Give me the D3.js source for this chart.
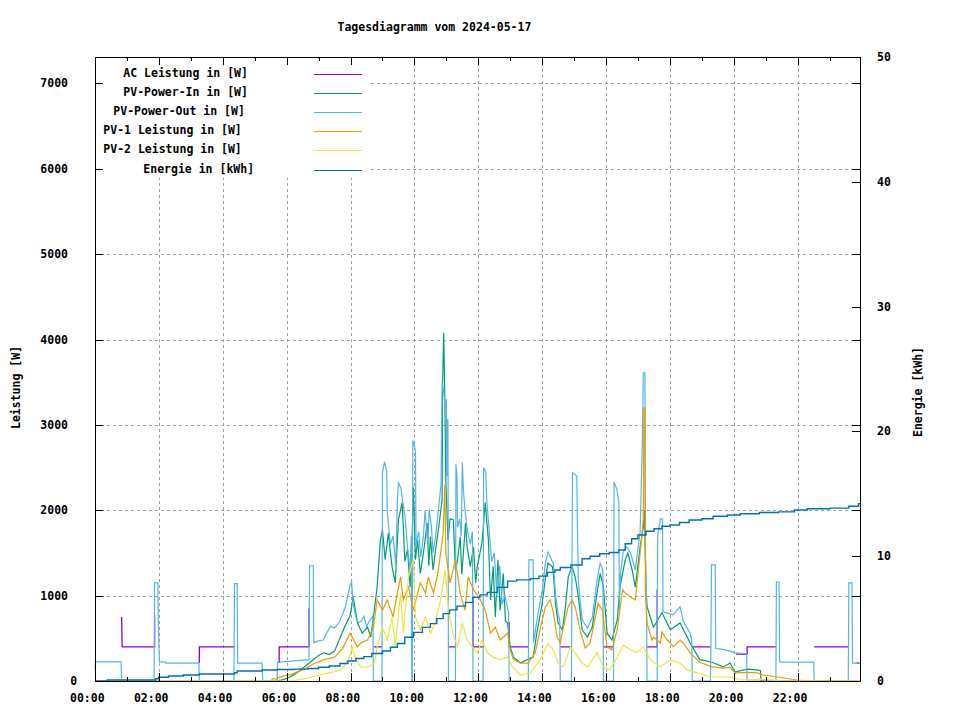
<!DOCTYPE html>
<html>
<head>
<meta charset="utf-8">
<script src="https://cdn.jsdelivr.net/npm/d3@7"></script>
<style>
  body { margin: 0; background: #fff; }
  svg text { font-family: "DejaVu Sans Mono", monospace; font-weight: bold; font-size: 11.5px; fill: #000; }
</style>
</head>
<body>
<div id="chart"></div>
<script>
// values: [time, value]; null = hidden behind other lines
const acLeistung = [
  ["00:50",750],["00:51",400],["01:52",400],["01:52",770],["01:53",null],
  ["03:16",210],["03:16",400],["04:22",400],["04:23",null],
  ["05:46",210],["05:46",400],["06:42",400],["06:42",850],["06:43",null],
  ["08:43",400],["08:59",400],["09:00",null],
  ["11:04",400],["11:17",400],["11:18",null],
  ["11:50",925],["11:50",400],["12:10",400],["12:11",null],
  ["12:58",690],["12:58",400],["13:34",400],["13:35",null],
  ["14:34",400],["14:55",400],["14:56",null],
  ["15:55",400],["16:14",400],["16:15",null],
  ["17:17",400],["17:36",400],["17:36",1070],["17:37",null],
  ["18:42",400],["19:16",400],["19:17",null],
  ["20:04",315],["20:25",315],["20:25",400],["21:19",400],["21:20",null],
  ["22:31",400],["23:35",400],["23:36",null],
  ["23:50",210],["23:57",210]
]

const pvPowerIn = [
  ["00:00",0],["05:40",0],["05:50",10],["06:00",30],["06:10",60],["06:20",100],["06:30",150],["06:40",200],
  ["06:50",250],["07:00",300],["07:10",330],["07:20",310],["07:30",350],["07:40",500],["07:50",650],["07:59",760],
  ["08:05",985],["08:13",680],["08:22",560],["08:32",630],["08:38",515],["08:43",750],["08:50",1100],["08:56",1650],
  ["09:00",1770],["09:05",1420],["09:11",1730],["09:18",1340],["09:24",1150],["09:30",1890],["09:37",2090],["09:42",1400],
  ["09:47",1540],["09:52",1100],["09:55",1500],["09:58",2270],["10:02",1420],["10:06",1650],["10:11",1260],["10:17",1500],
  ["10:24",1850],["10:27",1350],["10:30",1690],["10:35",1300],["10:39",1500],["10:45",1770],["10:52",2120],["10:53",3490],
  ["10:55",4080],["10:57",3375],["10:59",2360],["11:03",1650],["11:07",1900],["11:13",1890],["11:17",1300],["11:21",1420],
  ["11:26",1690],["11:29",1250],["11:32",1500],["11:36",1850],["11:39",1570],["11:45",1340],["11:51",1570],["11:55",1150],
  ["11:58",1340],["12:07",1620],["12:13",2090],["12:19",1650],["12:23",950],["12:28",1340],["12:32",750],["12:37",1420],
  ["12:41",830],["12:47",1260],["12:51",700],["12:55",680],["13:00",400],["13:06",280],["13:19",210],["13:32",250],
  ["13:43",280],["13:51",600],["14:00",910],["14:06",1200],["14:11",1380],["14:19",1340],["14:21",1260],["14:25",910],
  ["14:30",680],["14:38",600],["14:43",830],["14:49",1220],["14:56",1340],["15:02",1220],["15:08",985],["15:15",600],
  ["15:25",515],["15:34",630],["15:43",1030],["15:49",1260],["15:55",1100],["16:02",560],["16:11",480],["16:21",715],
  ["16:26",1100],["16:36",1420],["16:41",1500],["16:49",1300],["16:55",1100],["17:04",1570],["17:10",1800],["17:12",2000],
  ["17:15",1100],["17:17",870],["17:29",630],["17:45",800],["18:01",600],["18:19",680],["18:38",445],["18:56",250],
  ["19:19",220],["19:40",165],["19:53",210],["20:02",105],["20:25",140],["20:44",130],["20:50",120],["20:51",0],["23:57",0]
]

const pvPowerOut = [
  ["00:00",130],["00:01",223],["00:49",223],["00:50",0],["01:51",0],["01:52",1150],["01:58",1150],["01:59",680],
  ["02:01",223],["02:12",223],["02:13",210],["03:15",210],["03:16",0],["04:21",0],["04:22",1140],["04:27",1140],
  ["04:28",210],["05:14",210],["05:15",0],["05:42",0],["05:43",220],["06:42",250],["06:43",1350],["06:50",1350],
  ["06:51",450],["07:00",470],["07:09",480],["07:15",560],["07:22",640],["07:30",620],["07:40",700],["07:50",860],
  ["07:59",1120],["08:02",1160],["08:05",900],["08:10",750],["08:15",680],["08:20",700],["08:25",760],["08:30",640],
  ["08:35",700],["08:42",760],["08:43",0],["08:59",0],["09:00",2450],["09:04",2570],["09:08",2450],["09:09",1980],
  ["09:15",1600],["09:20",1700],["09:25",1350],["09:28",2100],["09:30",2330],["09:35",2250],["09:38",2100],["09:42",1950],
  ["09:48",1500],["09:52",1300],["09:54",1700],["09:55",0],["09:56",0],["09:57",2820],["10:02",2700],["10:03",1600],
  ["10:08",1750],["10:12",1450],["10:17",1700],["10:20",2000],["10:25",1600],["10:28",2010],["10:32",1800],["10:35",1500],
  ["10:40",1700],["10:45",2000],["10:50",2300],["10:52",3500],["10:55",3390],["10:58",3200],["11:00",3300],["11:01",2400],
  ["11:02",3060],["11:03",3060],["11:04",0],["11:17",0],["11:18",2540],["11:20",2400],["11:21",1800],["11:25",1900],
  ["11:28",1700],["11:30",2560],["11:32",2240],["11:35",2000],["11:40",1750],["11:45",1600],["11:49",1750],["11:50",0],
  ["12:09",0],["12:10",2500],["12:14",2450],["12:16",2100],["12:20",1800],["12:25",1400],["12:30",1500],["12:35",1000],
  ["12:40",1350],["12:45",900],["12:50",1000],["12:57",800],["12:58",0],["13:34",0],["13:35",1420],["13:43",1420],
  ["13:44",450],["13:51",750],["14:00",1050],["14:06",1380],["14:11",1510],["14:19",1400],["14:21",1380],["14:25",1000],
  ["14:30",780],["14:33",715],["14:34",0],["14:55",0],["14:56",1340],["14:57",2440],["15:05",2400],["15:06",1890],
  ["15:08",1150],["15:15",720],["15:25",620],["15:34",740],["15:43",1180],["15:49",1380],["15:54",1300],["15:55",0],
  ["16:14",0],["16:15",2330],["16:20",2250],["16:24",2100],["16:25",830],["16:27",1250],["16:32",1510],["16:39",1570],
  ["16:46",1500],["16:55",1300],["17:04",1750],["17:08",2750],["17:10",3610],["17:13",3610],["17:14",1500],["17:16",900],
  ["17:17",0],["17:36",0],["17:37",1700],["17:42",1900],["17:46",1900],["17:47",810],["18:06",775],["18:19",870],
  ["18:25",700],["18:38",560],["18:41",480],["18:42",0],["19:16",0],["19:17",400],["19:18",1360],["19:25",1360],
  ["19:26",380],["19:40",370],["19:53",350],["20:02",330],["20:24",320],["20:25",0],["21:19",0],["21:20",1160],
  ["21:25",1160],["21:26",220],["22:30",220],["22:31",0],["23:35",0],["23:36",1150],["23:42",1150],["23:43",210],["23:57",210]
]

const pv1Leistung = [
  ["00:00",0],["05:30",0],["05:35",30],["05:40",20],["05:45",40],["05:55",60],["06:10",80],["06:30",130],
  ["06:50",200],["07:10",250],["07:30",280],["07:45",380],["07:59",560],["08:13",400],["08:20",450],["08:32",480],
  ["08:43",630],["08:50",950],["09:00",830],["09:09",950],["09:20",750],["09:27",1000],["09:34",1220],["09:39",950],
  ["09:49",1100],["09:58",830],["10:05",1000],["10:11",1150],["10:21",1030],["10:26",1220],["10:36",1030],["10:45",1300],
  ["10:54",1730],["10:57",2300],["10:59",1500],["11:07",1150],["11:17",1420],["11:26",1030],["11:35",830],["11:41",1220],
  ["11:51",1070],["12:04",950],["12:13",830],["12:23",560],["12:32",630],["12:41",480],["12:55",560],["13:00",365],
  ["13:06",250],["13:19",210],["13:34",210],["13:47",330],["13:56",600],["14:06",870],["14:15",950],["14:21",800],
  ["14:28",515],["14:34",445],["14:40",630],["14:49",870],["14:56",950],["15:02",870],["15:11",600],["15:21",385],
  ["15:30",445],["15:40",750],["15:45",910],["15:53",830],["16:02",400],["16:11",365],["16:21",600],["16:31",1070],
  ["16:36",1030],["16:46",985],["16:55",950],["17:04",1500],["17:10",1890],["17:11",3200],["17:13",3200],["17:14",1000],
  ["17:17",680],["17:26",480],["17:29",515],["17:42",445],["17:45",575],["17:55",480],["18:01",445],["18:06",400],
  ["18:19",480],["18:25",445],["18:38",330],["18:56",220],["19:19",165],["19:40",150],["19:53",160],["20:02",95],
  ["20:25",100],["20:44",95],["20:55",70],["21:22",47],["21:59",12],["22:23",0],["23:57",0]
]

const pv2Leistung = [
  ["00:00",0],["06:00",0],["06:15",5],["06:35",30],["06:50",50],["07:10",80],["07:30",110],["07:45",140],
  ["07:59",300],["08:03",400],["08:10",250],["08:20",160],["08:35",170],["08:45",210],["08:50",400],["09:00",630],
  ["09:09",480],["09:18",750],["09:24",400],["09:34",1030],["09:39",560],["09:49",1220],["09:58",1420],["10:02",750],
  ["10:11",600],["10:21",750],["10:30",560],["10:39",680],["10:49",950],["10:58",1300],["11:04",830],["11:12",560],
  ["11:21",400],["11:30",680],["11:39",480],["11:49",400],["11:58",330],["12:07",480],["12:17",330],["12:28",280],
  ["12:41",250],["12:55",280],["13:04",165],["13:19",70],["13:38",94],["13:56",250],["14:11",445],["14:21",365],
  ["14:30",210],["14:40",165],["14:53",400],["15:02",330],["15:15",210],["15:26",165],["15:43",330],["15:55",165],
  ["16:07",130],["16:21",280],["16:32",420],["16:46",365],["16:58",330],["17:10",400],["17:23",250],["17:42",165],
  ["18:01",250],["18:19",210],["18:32",130],["18:51",95],["19:16",47],["19:53",47],["20:12",12],["20:50",20],
  ["21:19",10],["21:29",0],["23:57",0]
]

const energie = [
  ["00:00",0],["00:23",0.08],["01:54",0.18],["01:59",0.3],["02:18",0.4],["02:46",0.48],["03:16",0.56],["04:22",0.66],
  ["04:27",0.8],["05:14",0.88],["05:43",0.92],["06:15",0.95],["06:40",1.0],["07:00",1.1],["07:20",1.2],["07:40",1.4],
  ["07:55",1.6],["08:10",1.8],["08:25",1.95],["08:40",2.2],["09:00",2.4],["09:15",2.7],["09:28",3.0],["09:42",3.5],
  ["09:58",3.9],["10:15",4.3],["10:30",4.6],["10:42",5.0],["10:54",5.4],["11:06",5.7],["11:20",6.0],["11:36",6.3],
  ["11:50",6.7],["12:03",6.9],["12:17",7.1],["12:36",7.5],["12:55",8.0],["13:12",8.1],["13:38",8.2],["13:54",8.4],
  ["14:10",8.7],["14:24",8.9],["14:34",9.1],["14:54",9.3],["15:15",9.8],["15:30",10.0],["15:48",10.2],["16:06",10.3],
  ["16:24",10.5],["16:36",11.0],["16:48",11.4],["17:00",11.7],["17:15",12.0],["17:30",12.2],["17:45",12.4],["18:00",12.5],
  ["18:18",12.7],["18:36",12.9],["19:00",13.0],["19:21",13.2],["19:48",13.3],["20:12",13.4],["20:48",13.5],["21:24",13.55],
  ["21:54",13.7],["22:18",13.8],["23:00",13.85],["23:36",14.0],["23:54",14.2],["23:57",14.2]
]

const legendLabels = ["AC Leistung in [W]", "PV-Power-In in [W]", "PV-Power-Out in [W]",
  "PV-1 Leistung in [W]", "PV-2 Leistung in [W]", "Energie in [kWh]"]
const leistungTicks = [0, 1000, 2000, 3000, 4000, 5000, 6000, 7000]
const energieTicks = [0, 10, 20, 30, 40, 50]
const dayRange = ["00:00", "23:57"]

// gnuplot default line colours
const colors = ["#9400d3", "#009e73", "#56b4e9", "#e69f00", "#f0e442", "#0072b2"]

const width = 960, height = 720
const margin = {left: 95, right: 860, top: 57, bottom: 681}

const parse = d3.timeParse("%H:%M")

const svg = d3.create("svg")
  .attr("width", width)
  .attr("height", height)
  .attr("viewBox", [0, 0, width, height])

const x = d3.scaleTime()
  .domain(dayRange.map(parse))
  .range([margin.left, margin.right])
const y = d3.scaleLinear().domain([0, 7310]).range([margin.bottom, margin.top])
const y2 = d3.scaleLinear().domain([0, 50]).range([margin.bottom, margin.top])

const majorTimes = x.ticks(d3.timeHour.every(2))
const minorTimes = x.ticks(d3.timeHour.every(1)).filter(t => t.getHours() % 2 == 1)

// grid
const grid = svg.append("g")
  .attr("stroke", "#a0a0a0")
  .attr("stroke-width", 1)
  .attr("stroke-dasharray", "3,3")
  .attr("shape-rendering", "crispEdges")
grid.selectAll(".gx")
  .data(majorTimes.slice(1))
  .join("line")
    .attr("x1", d => Math.round(x(d)) + 0.5)
    .attr("x2", d => Math.round(x(d)) + 0.5)
    .attr("y1", margin.top)
    .attr("y2", margin.bottom)
grid.selectAll(".gy")
  .data(leistungTicks.slice(1))
  .join("line")
    .attr("x1", margin.left)
    .attr("x2", margin.right)
    .attr("y1", d => Math.round(y(d)) + 0.5)
    .attr("y2", d => Math.round(y(d)) + 0.5)

// data lines, drawn in gnuplot order
function drawSeries(data, scale, color, curve, sw) {
  const line = d3.line()
    .defined(d => d[1] != null)
    .x(d => x(parse(d[0])))
    .y(d => scale(d[1]))
    .curve(curve)
  svg.append("path")
    .datum(data)
    .attr("fill", "none")
    .attr("stroke", color)
    .attr("stroke-width", sw)
    .attr("stroke-linejoin", "miter")
    .attr("d", line)
}

drawSeries(acLeistung, y, colors[0], d3.curveLinear, 1.3)
drawSeries(pvPowerIn, y, colors[1], d3.curveLinear, 1.2)
drawSeries(pvPowerOut, y, colors[2], d3.curveLinear, 1.2)
drawSeries(pv1Leistung, y, colors[3], d3.curveLinear, 1.2)
drawSeries(pv2Leistung, y, colors[4], d3.curveLinear, 1.2)
drawSeries(energie, y2, colors[5], d3.curveStepAfter, 1.4)

// key with opaque background
svg.append("rect")
  .attr("x", 96).attr("y", 58)
  .attr("width", 274).attr("height", 120)
  .attr("fill", "#fff")

const key = svg.append("g")
legendLabels.forEach((label, i) => {
  const cy = 74 + i * 19.1
  // gnuplot justifies with a 10px per character estimate
  key.append("text")
    .attr("x", 303.3 - 10 * label.length)
    .attr("y", cy + 3)
    .text(label)
  key.append("line")
    .attr("x1", 314).attr("x2", 362)
    .attr("y1", Math.round(cy) + 0.5).attr("y2", Math.round(cy) + 0.5)
    .attr("stroke", colors[i])
    .attr("stroke-width", 1.2)
})

// ticks (all pointing inward)
function tickGroup(axis, tx, ty) {
  const g = svg.append("g")
    .attr("transform", `translate(${tx},${ty})`)
    .attr("shape-rendering", "crispEdges")
    .call(axis)
  g.select(".domain").remove()
  g.selectAll("text").remove()
  g.selectAll("line").attr("stroke", "#000")
  return g
}

tickGroup(d3.axisBottom(x).tickValues(majorTimes).tickSize(-8), 0, margin.bottom)
tickGroup(d3.axisBottom(x).tickValues(minorTimes).tickSize(-4), 0, margin.bottom)
tickGroup(d3.axisTop(x).tickValues(majorTimes).tickSize(-8), 0, margin.top)
tickGroup(d3.axisTop(x).tickValues(minorTimes).tickSize(-4), 0, margin.top)
tickGroup(d3.axisLeft(y).tickValues(leistungTicks).tickSize(-8), margin.left, 0)
tickGroup(d3.axisRight(y).tickValues(leistungTicks).tickSize(-8), margin.right, 0)
tickGroup(d3.axisRight(y2).tickValues(energieTicks).tickSize(-8), margin.right, 0)

// border
svg.append("rect")
  .attr("x", margin.left + 0.5).attr("y", margin.top + 0.5)
  .attr("width", margin.right - margin.left).attr("height", margin.bottom - margin.top - 0.5)
  .attr("fill", "none")
  .attr("stroke", "#000")
  .attr("shape-rendering", "crispEdges")

// tick labels
const fmt = d3.timeFormat("%H:%M")
svg.append("g").selectAll("text")
  .data(majorTimes)
  .join("text")
    .attr("x", d => x(d) - 25)
    .attr("y", 702)
    .text(d => fmt(d))

svg.append("g").selectAll("text")
  .data(leistungTicks)
  .join("text")
    .attr("x", d => 80.3 - 10 * String(d).length)
    .attr("y", d => y(d) + 4)
    .text(d => d)

svg.append("g").selectAll("text")
  .data(energieTicks)
  .join("text")
    .attr("x", 877)
    .attr("y", d => y2(d) + 4)
    .text(d => d)

// titles
svg.append("text")
  .attr("x", 337.5)
  .attr("y", 31)
  .text("Tagesdiagramm vom 2024-05-17")

svg.append("text")
  .attr("transform", "translate(20,429) rotate(-90)")
  .text("Leistung [W]")

svg.append("text")
  .attr("transform", "translate(922,437) rotate(-90)")
  .text("Energie [kWh]")

document.getElementById("chart").append(svg.node())
</script>
</body>
</html>
